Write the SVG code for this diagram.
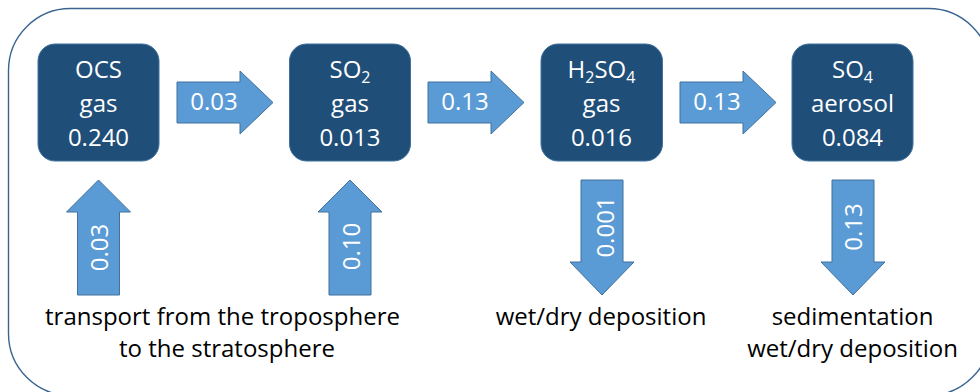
<svg xmlns="http://www.w3.org/2000/svg" width="980" height="392" viewBox="0 0 980 392">
<style>
.frame{fill:#ffffff;stroke:#3a6591;stroke-width:1.4}
.box{fill:#1f4e79;stroke:#41719c;stroke-width:1}
.arr{fill:#5b9bd5;stroke:#41719c;stroke-width:1}
.bt{font-family:"Open Sans",sans-serif;font-size:24px;fill:#ffffff;text-anchor:middle}
.sub{font-size:16px}
.lbl{font-family:"Open Sans",sans-serif;font-size:24px;fill:#000000;text-anchor:middle}
</style>
<rect class="frame" x="8.5" y="8.5" width="982" height="387" rx="62" ry="62"/>
<g id="connectors">
  <g id="arrow-ocs-so2">
    <polygon class="arr" points="177,82 240,82 240,71 273,102.5 240,134 240,123 177,123"/>
    <text class="bt" x="214" y="110">0.03</text>
  </g>
  <g id="arrow-so2-h2so4">
    <polygon class="arr" points="428,82 491,82 491,71 524,102.5 491,134 491,123 428,123"/>
    <text class="bt" x="465" y="110">0.13</text>
  </g>
  <g id="arrow-h2so4-so4">
    <polygon class="arr" points="680,82 743,82 743,71 776,102.5 743,134 743,123 680,123"/>
    <text class="bt" x="717" y="110">0.13</text>
  </g>
  <g id="arrow-in-ocs">
    <polygon class="arr" points="77.5,295 77.5,212 66.5,212 98.5,180 130.5,212 119.5,212 119.5,295"/>
    <text class="bt" x="108" y="247.5" transform="rotate(-90 108 247.5)">0.03</text>
  </g>
  <g id="arrow-in-so2">
    <polygon class="arr" points="329,295 329,212 318,212 350,180 382,212 371,212 371,295"/>
    <text class="bt" x="360" y="246.5" transform="rotate(-90 360 246.5)">0.10</text>
  </g>
  <g id="arrow-out-h2so4">
    <polygon class="arr" points="581,180 623,180 623,262 634,262 602,295 570,262 581,262"/>
    <text class="bt" x="614" y="227" transform="rotate(-90 614 227)">0.001</text>
  </g>
  <g id="arrow-out-so4">
    <polygon class="arr" points="832,180 874,180 874,262 885,262 853,295 821,262 832,262"/>
    <text class="bt" x="862" y="227" transform="rotate(-90 862 227)">0.13</text>
  </g>
</g>
<g id="node-ocs">
  <rect class="box" x="38" y="44" width="121" height="117" rx="17"/>
  <text class="bt" x="98.5" y="78">OCS</text>
  <text class="bt" x="98.5" y="112">gas</text>
  <text class="bt" x="98.5" y="146">0.240</text>
</g>
<g id="node-so2">
  <rect class="box" x="289.5" y="44" width="121" height="117" rx="17"/>
  <text class="bt" x="350" y="78">SO<tspan class="sub" dy="5">2</tspan></text>
  <text class="bt" x="350" y="112">gas</text>
  <text class="bt" x="350" y="146">0.013</text>
</g>
<g id="node-h2so4">
  <rect class="box" x="541" y="44" width="121.5" height="117" rx="17"/>
  <text class="bt" x="601.5" y="78">H<tspan class="sub" dy="5">2</tspan><tspan dy="-5">SO</tspan><tspan class="sub" dy="5">4</tspan></text>
  <text class="bt" x="601.5" y="112">gas</text>
  <text class="bt" x="601.5" y="146">0.016</text>
</g>
<g id="node-so4">
  <rect class="box" x="792" y="44" width="121" height="117" rx="17"/>
  <text class="bt" x="852.5" y="78">SO<tspan class="sub" dy="5">4</tspan></text>
  <text class="bt" x="852.5" y="112">aerosol</text>
  <text class="bt" x="852.5" y="146">0.084</text>
</g>
<g id="label-transport">
  <text class="lbl" x="222.5" y="325">transport from the troposphere</text>
  <text class="lbl" x="227" y="357">to the stratosphere</text>
</g>
<g id="label-wetdry">
  <text class="lbl" x="601" y="325">wet/dry deposition</text>
</g>
<g id="label-sedimentation">
  <text class="lbl" x="852.5" y="325">sedimentation</text>
  <text class="lbl" x="852.5" y="357">wet/dry deposition</text>
</g>
</svg>
